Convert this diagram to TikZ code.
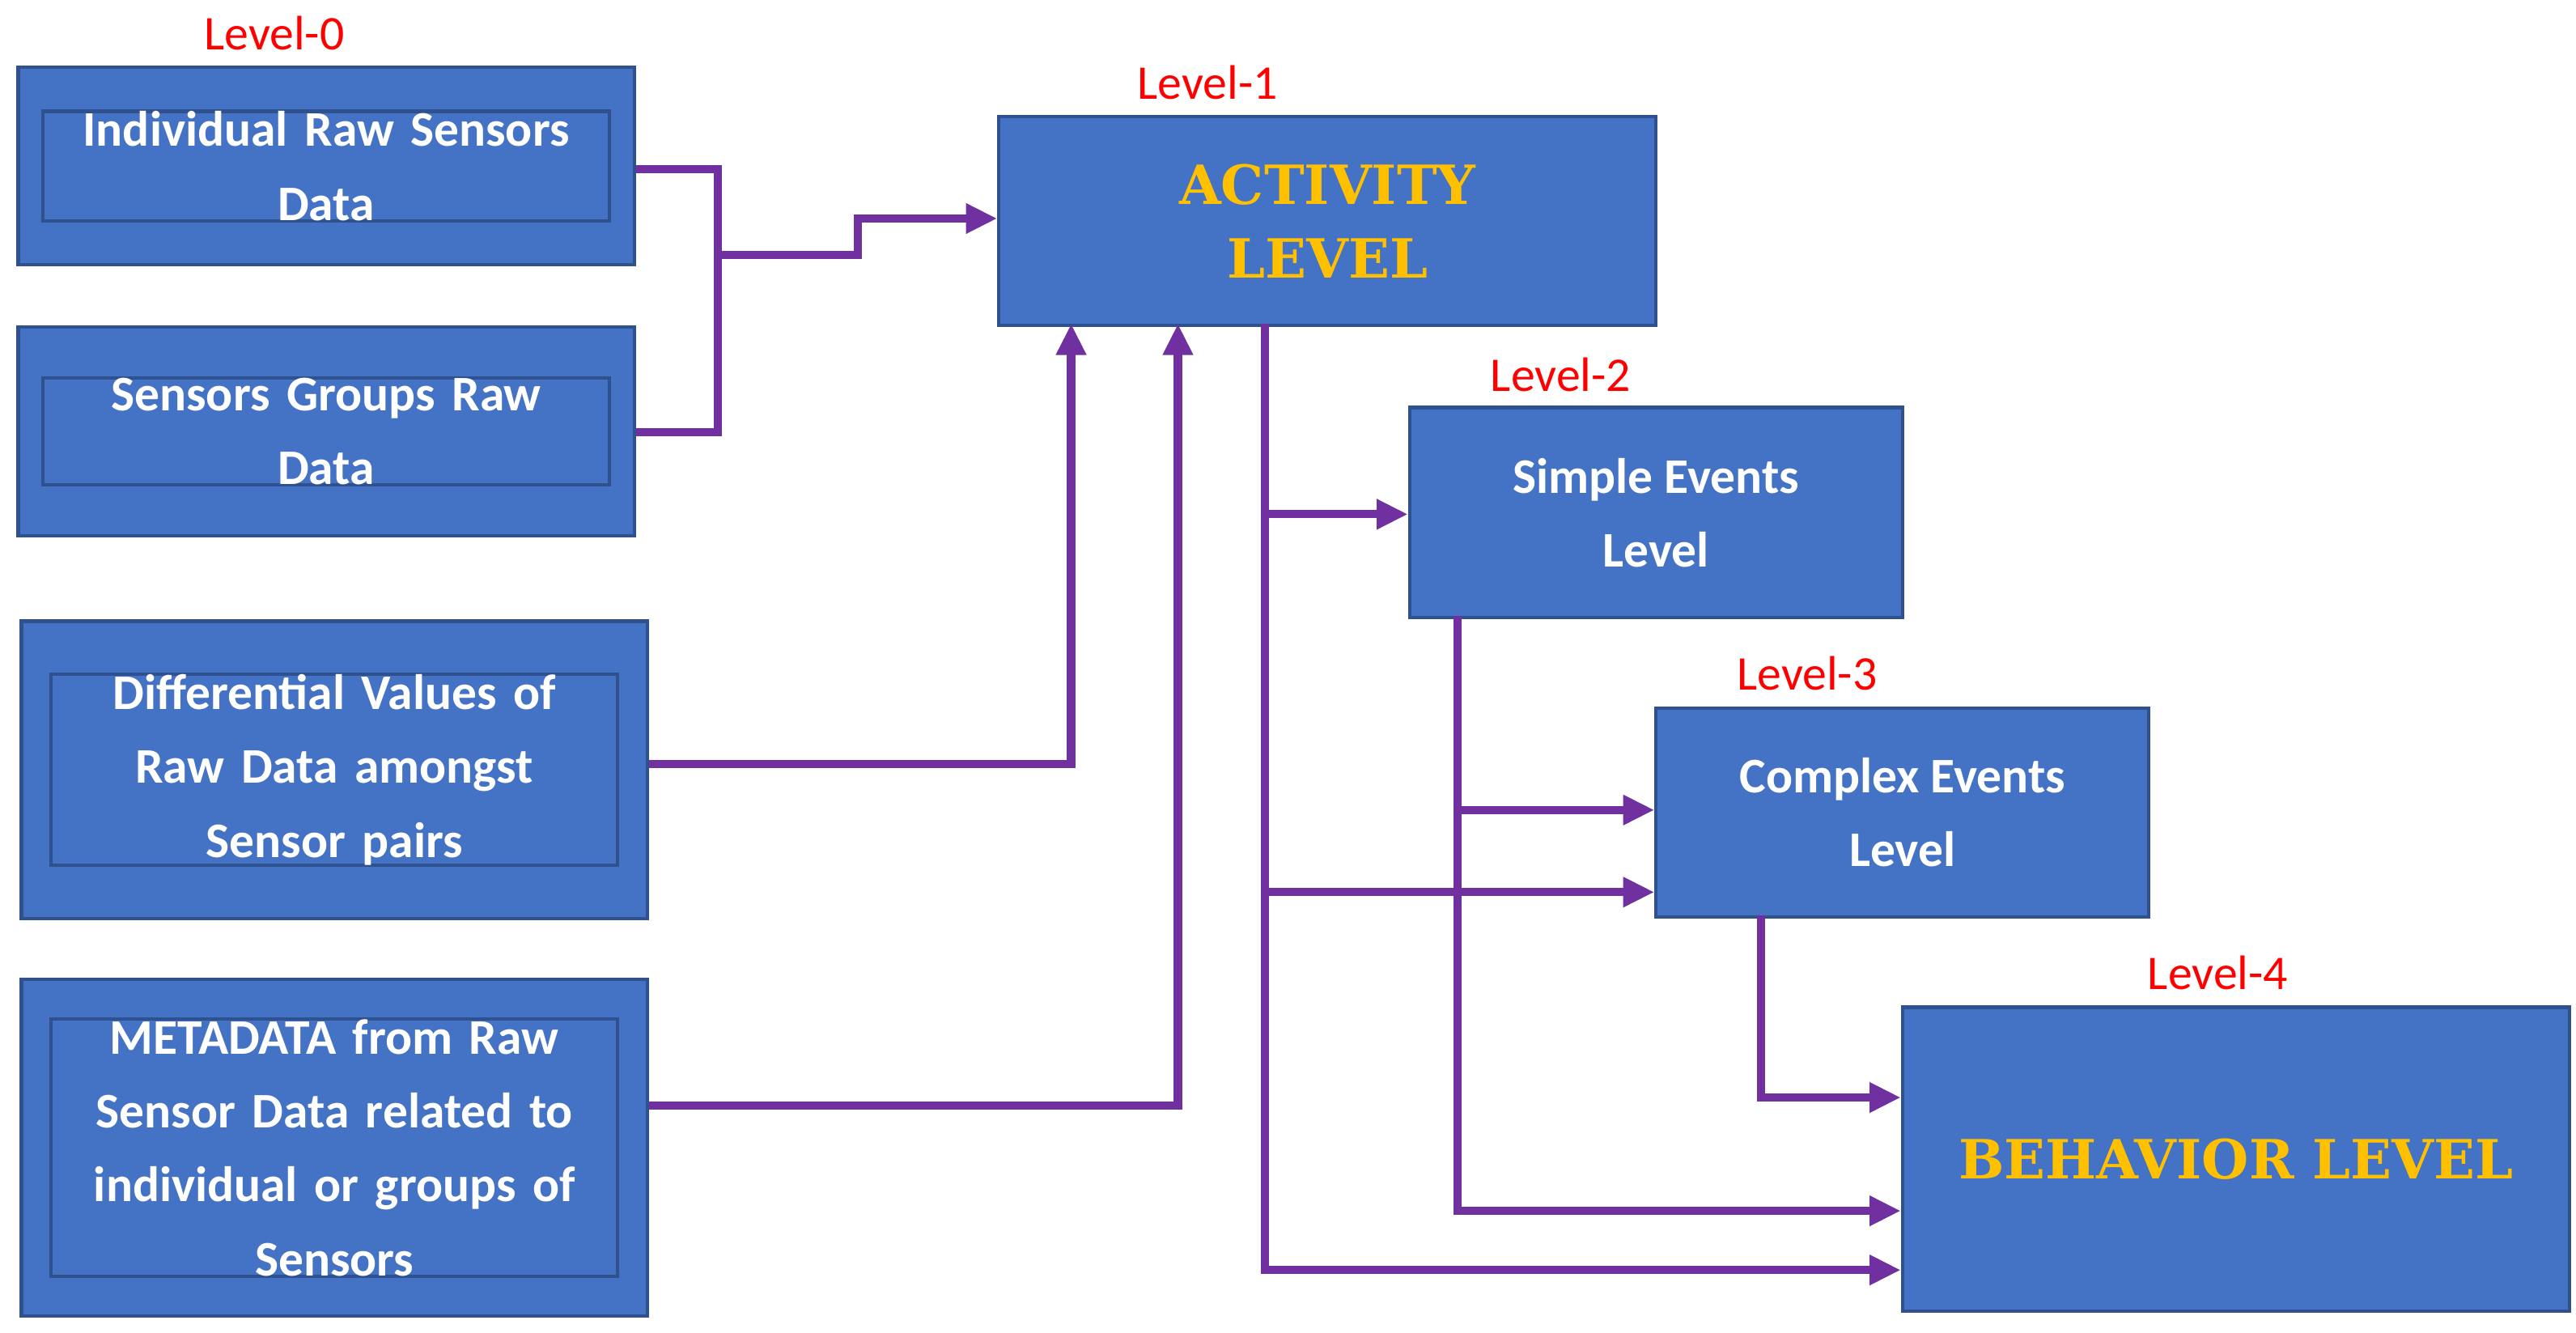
\documentclass[tikz,border=0pt]{standalone}
\usepackage{fontspec}
\setmainfont{Carlito}
\newfontfamily\heavy{DejaVu Serif}
\usetikzlibrary{arrows.meta}
\definecolor{boxfill}{HTML}{4472C4}
\definecolor{boxline}{HTML}{2F528F}
\definecolor{con}{HTML}{7030A0}
\definecolor{gold}{HTML}{FFC000}
\begin{document}
\begin{tikzpicture}[x=0.0203cm,y=-0.0203cm,
  box/.style={draw=boxline,line width=1.2pt,fill=boxfill,text=white,font=\bfseries\fontsize{17.5}{26}\selectfont,align=center,inner sep=0pt,anchor=north west},
  big/.style={box,text=gold,font=\heavy\bfseries\fontsize{19}{26}\selectfont},
  lvl/.style={text=red,font=\fontsize{17}{20}\selectfont},
  c/.style={draw=con,line width=2.9pt},
  a/.style={c,-{Triangle[length=11pt,width=10pt]}}]
\useasboundingbox (0,0) rectangle (1568,811);
\newcommand\bx[6]{\node[#1,minimum width=#4*0.0203cm,minimum height=#5*0.0203cm] (#6) at (#2,#3) {};}
\bx{box}{10}{40}{375}{120}{A}
\bx{box}{10}{198}{375}{127}{B}
\bx{box}{12}{377}{381}{181}{C}
\bx{box}{12}{595}{381}{205}{D}
\bx{big}{607}{70}{400}{127}{E}
\bx{box}{857}{247}{300}{128}{F}
\bx{box}{1007}{430}{300}{127}{G}
\bx{big}{1157}{612}{406}{185}{H}
\node[box,anchor=center,text width=7cm] at (A.center) {Individual Raw Sensors\\Data};
\node[box,anchor=center,text width=7cm] at (B.center) {Sensors Groups Raw\\Data};
\node[box,anchor=center,text width=7cm] at (C.center) {Differential Values of\\Raw Data amongst\\Sensor pairs};
\node[box,anchor=center,text width=7cm] at (D.center) {METADATA from Raw\\Sensor Data related to\\individual or groups of\\Sensors};
\node[big,anchor=center,draw=none,fill=none] at (E.center) {ACTIVITY\\LEVEL};
\node[box,anchor=center,draw=none,fill=none] at (F.center) {Simple Events\\Level};
\node[box,anchor=center,draw=none,fill=none] at (G.center) {Complex Events\\Level};
\node[big,anchor=center,draw=none,fill=none] at (H.center) {BEHAVIOR LEVEL};
\node[lvl] (l0) at (167,20) {Level-0};
\node[lvl] (l1) at (735,50) {Level-1};
\node[lvl] (l2) at (950,228) {Level-2};
\node[lvl] (l3) at (1100,410) {Level-3};
\node[lvl] (l4) at (1350,592) {Level-4};
\coordinate (m) at (437,155);
\draw[c] (A.east|-0,103) -| (437,263) -- (B.east|-0,263);
\draw[a] (m) -- (522,155) |- (E.west|-0,133);
\draw[a] (C.east|-0,465) -| (652,197);
\draw[a] (D.east|-0,673) -| (717,197);
\draw[a] (770,197) |- (H.west|-0,773);
\draw[a] (770,313) -- (F.west|-0,313);
\draw[a] (770,543) -- (G.west|-0,543);
\draw[a] (887,375) |- (H.west|-0,737);
\draw[a] (887,493) -- (G.west|-0,493);
\draw[a] (1072,557) |- (H.west|-0,668);
\end{tikzpicture}
\end{document}
